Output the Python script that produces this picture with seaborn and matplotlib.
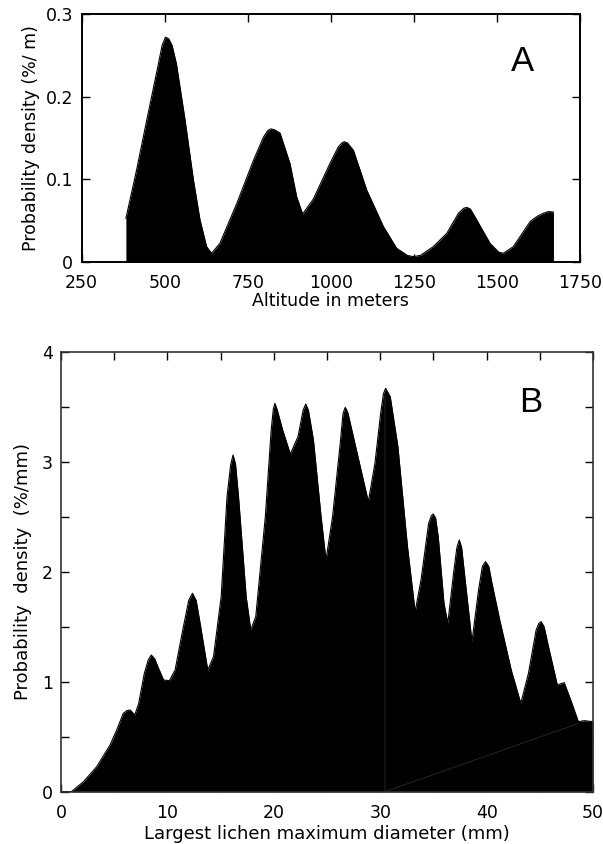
import matplotlib
matplotlib.use('Agg')
import matplotlib.pyplot as plt
import seaborn as sns
import pandas as pd

# Panel A: altitude density
alt_m = [383, 384, 415, 446, 479, 492, 502, 512, 522, 535, 561, 586, 606, 626, 641, 666,
         717, 767, 797, 810, 819, 830, 847, 877, 897, 915, 947, 997, 1022, 1033, 1040,
         1050, 1068, 1108, 1158, 1198, 1230, 1248, 1270, 1308, 1349, 1384, 1400, 1409,
         1420, 1439, 1479, 1505, 1519, 1549, 1590, 1600, 1620, 1640, 1655, 1670]
alt_dens = [0.0525, 0.0545, 0.111, 0.172, 0.236, 0.262, 0.272, 0.270, 0.262, 0.240, 0.172,
            0.100, 0.051, 0.0185, 0.0105, 0.0226, 0.071, 0.123, 0.151, 0.159, 0.161, 0.160,
            0.156, 0.119, 0.079, 0.058, 0.076, 0.119, 0.139, 0.144, 0.1455, 0.144, 0.135,
            0.087, 0.043, 0.0166, 0.008, 0.0064, 0.008, 0.0185, 0.0347, 0.059, 0.065, 0.066,
            0.064, 0.051, 0.0226, 0.012, 0.0105, 0.0185, 0.043, 0.049, 0.055, 0.059, 0.061,
            0.0605]

# Panel B: lichen diameter density
diam_mm = [0.0, 0.97, 2.1, 3.35, 4.6, 5.23, 5.85, 6.2, 6.5, 6.93, 7.29, 7.83, 8.2, 8.48, 8.8,
           9.1, 9.64, 10.18, 10.72, 11.44, 12.0, 12.35, 12.7, 13.07, 13.79, 14.33, 15.05,
           15.6, 15.95, 16.17, 16.4, 16.68, 17.4, 17.83, 18.3, 19.2, 19.75, 19.95, 20.1,
           20.3, 20.83, 21.55, 22.27, 22.75, 23.0, 23.25, 23.72, 24.44, 24.9, 25.52, 26.24,
           26.5, 26.71, 26.95, 27.33, 28.05, 28.88, 29.5, 30.04, 30.3, 30.5, 30.94, 31.66,
           32.56, 33.28, 33.83, 34.55, 34.8, 34.98, 35.2, 35.45, 35.99, 36.35, 36.89, 37.2,
           37.43, 37.65, 37.98, 38.62, 39.24, 39.6, 39.89, 40.2, 40.5, 41.23, 42.31, 43.21,
           43.93, 44.65, 44.9, 45.12, 45.4, 45.74, 46.64, 47.29, 47.9, 48.62, 49.17, 50.0]
diam_dens = [0.0, 0.0, 0.09, 0.227, 0.424, 0.56, 0.713, 0.738, 0.743, 0.698, 0.80, 1.077,
             1.2, 1.243, 1.21, 1.137, 1.016, 1.01, 1.107, 1.471, 1.74, 1.805, 1.74, 1.532,
             1.107, 1.228, 1.774, 2.684, 2.98, 3.063, 2.98, 2.684, 1.774, 1.471, 1.592,
             2.502, 3.29, 3.48, 3.533, 3.48, 3.29, 3.072, 3.23, 3.47, 3.527, 3.47, 3.2, 2.502,
             2.108, 2.502, 3.17, 3.44, 3.497, 3.45, 3.29, 2.987, 2.639, 2.987, 3.442, 3.62,
             3.67, 3.594, 3.139, 2.229, 1.638, 1.926, 2.442, 2.51, 2.527, 2.49, 2.32, 1.714,
             1.532, 1.987, 2.22, 2.29, 2.22, 1.926, 1.365, 1.835, 2.05, 2.093, 2.05, 1.896,
             1.562, 1.107, 0.804, 1.077, 1.471, 1.53, 1.547, 1.5, 1.35, 0.971, 0.992, 0.834,
             0.637, 0.646, 0.637]

# faint polygon seam visible inside panel B
seam_x = [30.45, 30.45, 48.6]
seam_y = [3.6, 0.0, 0.62]

df_a = pd.DataFrame({'alt': alt_m, 'dens': alt_dens})
df_b = pd.DataFrame({'diam': diam_mm, 'dens': diam_dens})

sns.set_theme(style='ticks')
plt.rcParams['font.family'] = ['DejaVu Sans']
plt.rcParams['axes.edgecolor'] = 'black'
plt.rcParams['text.color'] = 'black'
plt.rcParams['axes.labelcolor'] = 'black'

fig = plt.figure(figsize=(6.03, 8.44), dpi=100)
ax1 = fig.add_axes([0.1355, 0.6896, 0.8264, 0.2938])
ax2 = fig.add_axes([0.1012, 0.0620, 0.8823, 0.5209])

# A
sns.lineplot(data=df_a, x='alt', y='dens', ax=ax1, color='black', lw=0.8, sort=False)
ax1.fill_between(df_a['alt'], 0, df_a['dens'], color='black', lw=0)
ax1.set_xlim(250, 1750)
ax1.set_ylim(0, 0.3)
ax1.set_xticks([250, 500, 750, 1000, 1250, 1500, 1750])
ax1.set_yticks([0, 0.1, 0.2, 0.3])
ax1.set_yticklabels(['0', '0.1', '0.2', '0.3'])
ax1.set_xlabel('Altitude in meters', fontsize=12.5, labelpad=0)
ax1.set_ylabel('Probability density (%/ m)', fontsize=12.5, labelpad=4)
ax1.text(1578, 0.243, 'A', fontsize=25, ha='center', va='center',
         family='Liberation Sans', color='black')
for s in ax1.spines.values():
    s.set_linewidth(1.4)
    s.set_visible(True)

# B
sns.lineplot(data=df_b, x='diam', y='dens', ax=ax2, color='black', lw=0.8, sort=False)
ax2.fill_between(df_b['diam'], 0, df_b['dens'], color='black', lw=0)
ax2.plot(seam_x, seam_y, color='#2a2a2a', lw=0.6)
ax2.set_xlim(0, 50)
ax2.set_ylim(0, 4)
ax2.set_xticks([0, 5, 10, 15, 20, 25, 30, 35, 40, 45, 50])
ax2.set_xticklabels(['0', '', '10', '', '20', '', '30', '', '40', '', '50'])
ax2.set_yticks([0, 0.5, 1, 1.5, 2, 2.5, 3, 3.5, 4])
ax2.set_yticklabels(['0', '', '1', '', '2', '', '3', '', '4'])
ax2.set_xlabel('Largest lichen maximum diameter (mm)', fontsize=13, labelpad=2)
ax2.set_ylabel('Probability  density  (%/mm)', fontsize=13, labelpad=7)
ax2.text(44.1, 3.545, 'B', fontsize=25, ha='center', va='center',
         family='Liberation Sans', color='black')
for s in ax2.spines.values():
    s.set_linewidth(1.2)
    s.set_color('#333333')
    s.set_visible(True)

for ax in (ax1, ax2):
    ax.tick_params(direction='in', length=6, width=1, top=True, right=True,
                   labelsize=12.5, colors='black', labelcolor='black', pad=6)
    ax.tick_params(axis='x', pad=9)
    ax.grid(False)

fig.savefig('out.png', dpi=100)
